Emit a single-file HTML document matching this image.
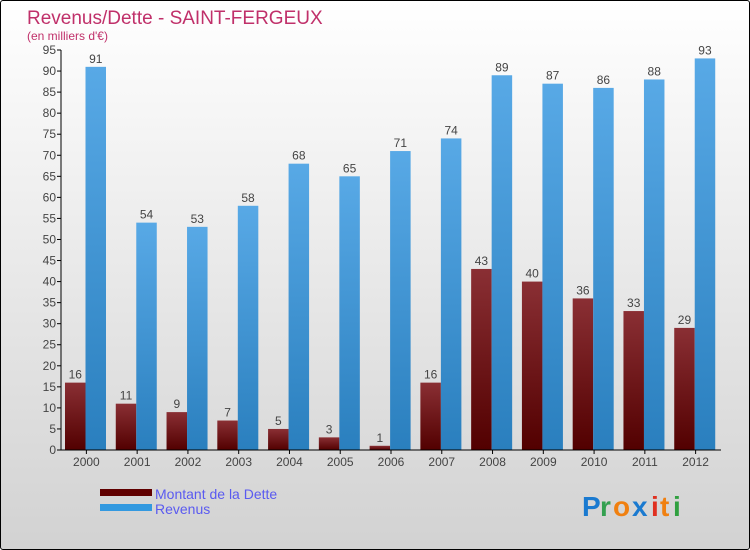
<!DOCTYPE html>
<html><head><meta charset="utf-8"><style>
body{margin:0;width:750px;height:550px;overflow:hidden;font-family:"Liberation Sans",sans-serif}
#frame{position:absolute;left:0;top:0;width:748px;height:548px;border:1px solid #000;border-radius:3px;background:linear-gradient(#ffffff,#d2d2d2)}
</style></head><body>
<div id="frame"></div>
<svg id="c" width="750" height="550" style="position:absolute;left:0;top:0">
<defs>
<linearGradient id="gd" x1="0" y1="0" x2="0" y2="1"><stop offset="0" stop-color="#8a2f34"/><stop offset="1" stop-color="#520000"/></linearGradient>
<linearGradient id="gr" x1="0" y1="0" x2="0" y2="1"><stop offset="0" stop-color="#58a9e6"/><stop offset="1" stop-color="#2a7fbe"/></linearGradient>
</defs>
<text x="27" y="24" font-size="19" fill="#c0306a">Revenus/Dette - SAINT-FERGEUX</text>
<text x="27" y="40" font-size="12" fill="#c0306a">(en milliers d'€)</text>
<g id="g"></g>
<g>
<rect x="100" y="489" width="52" height="7" fill="#600000"/>
<text x="155" y="499" font-size="14" fill="#5a5af0">Montant de la Dette</text>
<rect x="100" y="504" width="52" height="7" fill="#3399e0"/>
<text x="155" y="514" font-size="14" fill="#5a5af0">Revenus</text>
</g>
<g font-size="28" font-weight="bold">
<text x="582" y="516" fill="#1a7ad0">P</text><text x="600" y="516" fill="#33a050">r</text><text x="613" y="516" fill="#f08010">o</text><text x="632" y="516" fill="#1a7ad0">x</text><text x="651" y="516" fill="#e03020">i</text><text x="660" y="516" fill="#f08010">t</text><text x="673" y="516" fill="#30a040">i</text>
</g>
</svg>
<script>
const years=["2000","2001","2002","2003","2004","2005","2006","2007","2008","2009","2010","2011","2012"];
const dette=[16,11,9,7,5,3,1,16,43,40,36,33,29];
const revenus=[91,54,53,58,68,65,71,74,89,87,86,88,93];
const yTicks=[0,5,10,15,20,25,30,35,40,45,50,55,60,65,70,75,80,85,90,95];
const NS="http://www.w3.org/2000/svg";
const g=document.getElementById('g');
const x0=61,x1=721,yb=450,yt=50,ymax=95;
const gw=(x1-x0)/years.length;
const y=v=>yb-(v/ymax)*(yb-yt);
function mk(t,a,txt){const e=document.createElementNS(NS,t);for(const k in a)e.setAttribute(k,a[k]);if(txt!==undefined)e.textContent=txt;g.appendChild(e);return e;}
years.forEach((yr,i)=>{
  const gx=x0+i*gw;
  const b1=mk('rect',{x:gx+4,y:y(dette[i]),width:20.5,height:yb-y(dette[i]),fill:'url(#gd)'});
  
  
  const b2=mk('rect',{x:gx+24.5,y:y(revenus[i]),width:20.5,height:yb-y(revenus[i]),fill:'url(#gr)'});
  
  
  const l1=mk('text',{x:gx+14.25,y:y(dette[i])-4,'font-size':12,fill:'#444','text-anchor':'middle'},dette[i]);
  
  
  const l2=mk('text',{x:gx+34.75,y:y(revenus[i])-4,'font-size':12,fill:'#444','text-anchor':'middle'},revenus[i]);
  
  
  const tk=mk('line',{x1:gx+gw/2,x2:gx+gw/2,y1:yb,y2:yb+4,stroke:'#000'});
  
  
  const xl=mk('text',{x:gx+gw/2,y:yb+16,'font-size':12,fill:'#444','text-anchor':'middle'},yr);
  
  
});
yTicks.forEach(v=>{
  const t=mk('line',{x1:x0-4,x2:x0,y1:y(v),y2:y(v),stroke:'#000'});
  
  
  const l=mk('text',{x:x0-5,y:y(v)+4,'font-size':12,fill:'#444','text-anchor':'end'},v);
  
  
});
const ya=mk('line',{x1:x0,x2:x0,y1:yt,y2:yb,stroke:'#000'});


const xa=mk('line',{x1:x0,x2:x1,y1:yb,y2:yb,stroke:'#000'});


</script>
</body></html>
